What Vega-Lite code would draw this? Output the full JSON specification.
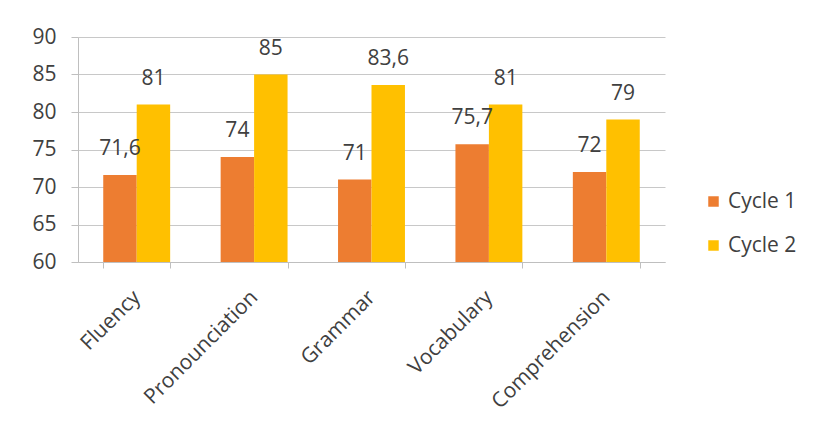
{
  "$schema": "https://vega.github.io/schema/vega-lite/v6.json",
  "width": 587,
  "height": 225,
  "autosize": {"type": "none"},
  "padding": {"left": 78, "top": 37, "right": 155, "bottom": 175},
  "background": "white",
  "config": {
    "font": "Open Sans",
    "view": {"stroke": null},
    "axis": {"labelFont": "Open Sans", "labelColor": "#595959", "labelFontSize": 20}
  },
  "data": {
    "values": [
      {"skill": "Fluency", "cycle": "Cycle 1", "score": 71.6, "label": "71,6"},
      {"skill": "Fluency", "cycle": "Cycle 2", "score": 81, "label": "81"},
      {"skill": "Pronounciation", "cycle": "Cycle 1", "score": 74, "label": "74"},
      {"skill": "Pronounciation", "cycle": "Cycle 2", "score": 85, "label": "85"},
      {"skill": "Grammar", "cycle": "Cycle 1", "score": 71, "label": "71"},
      {"skill": "Grammar", "cycle": "Cycle 2", "score": 83.6, "label": "83,6"},
      {"skill": "Vocabulary", "cycle": "Cycle 1", "score": 75.7, "label": "75,7"},
      {"skill": "Vocabulary", "cycle": "Cycle 2", "score": 81, "label": "81"},
      {"skill": "Comprehension", "cycle": "Cycle 1", "score": 72, "label": "72"},
      {"skill": "Comprehension", "cycle": "Cycle 2", "score": 79, "label": "79"}
    ]
  },
  "encoding": {
    "x": {
      "field": "skill", "type": "nominal", "sort": null,
      "scale": {"paddingInner": 0.43, "paddingOuter": 0.215},
      "axis": {
        "title": null, "labelAngle": -45, "labelAlign": "right", "labelBaseline": "middle",
        "labelPadding": 26, "domainColor": "#BFBFBF", "tickColor": "#BFBFBF",
        "tickBand": "extent", "tickSize": 6, "labelColor": "#404040", "labelFontSize": 21
      }
    },
    "xOffset": {"field": "cycle", "type": "nominal", "scale": {"paddingInner": 0, "paddingOuter": 0}},
    "y": {
      "field": "score", "type": "quantitative",
      "scale": {"domain": [60, 90], "zero": false, "nice": false},
      "axis": {
        "title": null, "values": [60, 65, 70, 75, 80, 85, 90], "grid": true,
        "gridColor": "#C8C8C8", "domainColor": "#BFBFBF", "tickColor": "#BFBFBF",
        "tickSize": 7, "labelPadding": 15, "labelColor": "#404040", "labelFontSize": 21
      }
    }
  },
  "layer": [
    {
      "mark": {"type": "bar", "clip": true},
      "encoding": {
        "y2": {"datum": 60},
        "color": {
          "field": "cycle", "type": "nominal",
          "scale": {"domain": ["Cycle 1", "Cycle 2"], "range": ["#ED7D31", "#FFC000"]},
          "legend": {
            "title": null, "orient": "none", "legendX": 625, "legendY": 154,
            "symbolType": "square", "symbolSize": 110, "symbolStrokeWidth": 0,
            "labelFontSize": 21, "labelColor": "#404040", "rowPadding": 22, "labelOffset": 4
          }
        }
      }
    },
    {
      "mark": {"type": "text", "dy": -26, "fontSize": 21, "color": "#404040", "baseline": "middle"},
      "encoding": {"text": {"field": "label"}}
    }
  ]
}
